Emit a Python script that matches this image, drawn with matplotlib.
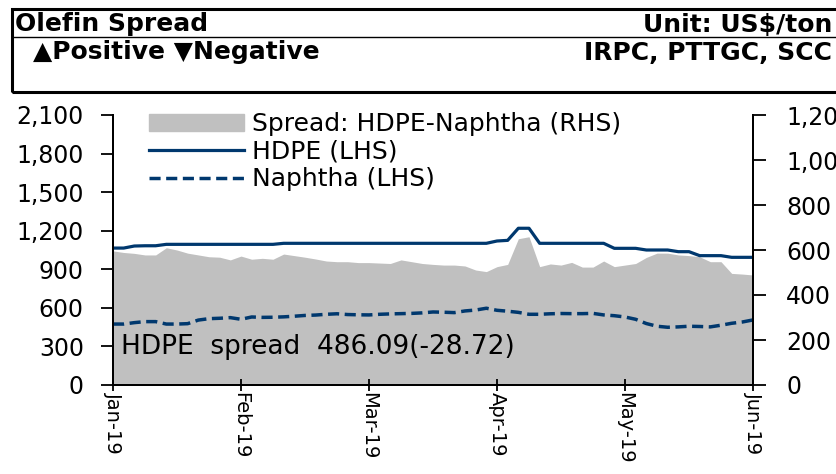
import matplotlib.pyplot as plt
import matplotlib.patches as mpatches
from matplotlib.lines import Line2D
from matplotlib.ticker import FuncFormatter
import numpy as np

# Data (12 points per month, Jan-19 .. Jun-19)
months = ["Jan-19", "Feb-19", "Mar-19", "Apr-19", "May-19", "Jun-19"]
points_per_month = 12

hdpe = [1065, 1065, 1081, 1083, 1083, 1094, 1094, 1094, 1094, 1094,
        1094, 1094, 1094, 1094, 1094, 1094, 1102, 1102, 1102, 1102,
        1102, 1102, 1102, 1102, 1102, 1102, 1102, 1102, 1102, 1102,
        1102, 1102, 1102, 1102, 1102, 1102, 1120, 1125, 1219, 1219,
        1102, 1102, 1102, 1102, 1102, 1102, 1102, 1063, 1063, 1063,
        1050, 1050, 1050, 1037, 1037, 1006, 1006, 1006, 993, 993,
        993]

naphtha = [474, 474, 485, 493, 493, 474, 474, 477, 505, 516,
           519, 524, 511, 529, 526, 527, 530, 535, 541, 544,
           550, 554, 548, 546, 545, 550, 553, 555, 557, 561,
           568, 566, 563, 576, 583, 597, 581, 574, 565, 550,
           550, 554, 556, 555, 555, 557, 545, 539, 529, 511,
           478, 457, 449, 452, 457, 455, 452, 465, 480, 490,
           506]

spread = [596, 589, 585, 578, 578, 610, 600, 586, 578, 570,
          568, 556, 573, 559, 563, 559, 582, 575, 568, 560,
          551, 548, 548, 544, 544, 542, 540, 556, 548, 540,
          536, 533, 533, 529, 511, 504, 526, 536, 650, 659,
          526, 538, 533, 545, 524, 524, 551, 526, 533, 540,
          567, 586, 586, 578, 575, 570, 548, 548, 496, 493,
          489]

left_ticks = [0, 300, 600, 900, 1200, 1500, 1800, 2100]
right_ticks = [0, 200, 400, 600, 800, 1000, 1200]

navy = "#00386E"
grey = "#C0C0C0"
plt.rcParams["font.family"] = ["DejaVu Sans"]

if __name__ == "__main__":
    fig = plt.figure(figsize=(8.36, 4.74), dpi=100)
    W, H = 836, 474

    # header box
    fig.patches.append(mpatches.Rectangle((12 / W, 1 - 92 / H), 900 / W, 83 / H,
                                          transform=fig.transFigure, fill=False,
                                          lw=2.2, ec="black"))
    fig.lines.append(Line2D([12 / W, 1], [1 - 37 / H, 1 - 37 / H],
                            transform=fig.transFigure, lw=1.0, color="black"))
    hdr = dict(fontsize=18, fontweight="bold", va="baseline")
    fig.text(15 / W, 1 - 31.5 / H, "Olefin Spread", ha="left", **hdr)
    fig.text(832 / W, 1 - 31.5 / H, "Unit: US$/ton", ha="right", **hdr)
    fig.text(33 / W, 1 - 59.5 / H, "\u25b2Positive \u25bcNegative", ha="left", **hdr)
    fig.text(832 / W, 1 - 59.5 / H, "IRPC, PTTGC, SCC", ha="right", **hdr)

    # chart
    ax = fig.add_axes([113 / W, 1 - 385 / H, 640 / W, 270 / H])
    ax2 = ax.twinx()
    x = np.arange(len(hdpe))

    ax2.fill_between(x, 0, spread, color=grey, lw=0)
    ax.plot(x, hdpe, color=navy, lw=2.3)
    ax.plot(x, naphtha, color=navy, lw=2.5, linestyle=(0, (3.2, 1.6)))

    ax.set_zorder(ax2.get_zorder() + 1)
    ax.patch.set_visible(False)

    ax.set_xlim(0, len(hdpe) - 1)
    ax.set_ylim(0, 2100)
    ax2.set_ylim(0, 1200)
    ax.set_yticks(left_ticks)
    ax2.set_yticks(right_ticks)
    ax.yaxis.set_major_formatter(FuncFormatter(lambda v, p: f"{int(v):,}"))
    ax2.yaxis.set_major_formatter(FuncFormatter(lambda v, p: f"{int(v):,}"))
    ax.set_xticks([i * points_per_month for i in range(len(months))])
    ax.set_xticklabels(months, rotation=270, fontsize=14, va="top")

    for a in (ax, ax2):
        a.spines["top"].set_visible(False)
        for s in ("left", "right", "bottom"):
            a.spines[s].set_linewidth(1.4)
    ax.tick_params(axis="y", direction="out", length=9, width=1.3, labelsize=17, pad=12)
    ax2.tick_params(axis="y", direction="out", length=9, width=1.3, labelsize=17, pad=15)
    ax.tick_params(axis="x", direction="inout", length=8, width=1.3, pad=1)

    # legend
    handles = [mpatches.Patch(color=grey),
               Line2D([], [], color=navy, lw=2.3),
               Line2D([], [], color=navy, lw=2.5, linestyle=(0, (3.2, 1.6)))]
    labels = ["Spread: HDPE-Naphtha (RHS)", "HDPE (LHS)", "Naphtha (LHS)"]
    ax.legend(handles, labels, loc="upper left", bbox_to_anchor=(0.057, 1.01),
              frameon=False, fontsize=18, handlelength=3.8, handletextpad=0.3,
              labelspacing=0.14, borderpad=0, borderaxespad=0)

    ax.text(0.012, 0.14, "HDPE  spread  486.09(-28.72)", transform=ax.transAxes,
            fontsize=19, va="center", ha="left")

    fig.savefig("out.png", dpi=100)
